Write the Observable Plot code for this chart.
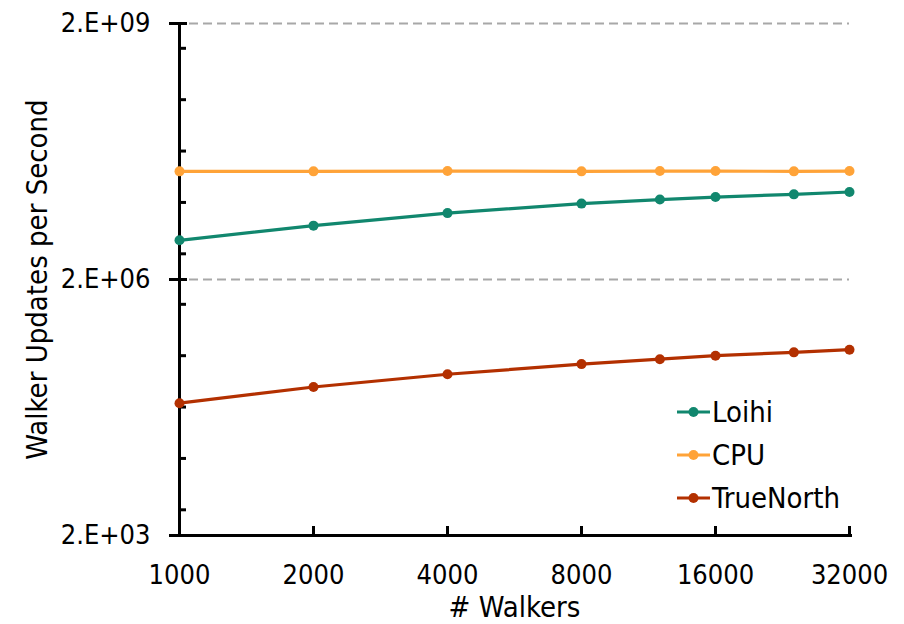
<!DOCTYPE html>
<html><head><meta charset="utf-8">
<script src="https://cdn.jsdelivr.net/npm/d3@7"></script>
<script src="https://cdn.jsdelivr.net/npm/@observablehq/plot@0.6"></script>
<style>
body{margin:0;background:#fff;}
#wrap{position:relative;width:904px;height:624px;font-family:"DejaVu Sans Condensed","DejaVu Sans",sans-serif;font-stretch:condensed;}
#legend{position:absolute;left:677px;top:390px;font-size:29px;color:#000;}
#legend .row{height:43px;display:flex;align-items:center;}
#legend svg{margin-right:2px;}
</style></head><body><div id="wrap"></div>
<script>
const walkers = [1000, 2000, 4000, 8000, 12000, 16000, 24000, 32000];
const loihi = [5.76e6, 8.55e6, 1.20e7, 1.55e7, 1.73e7, 1.85e7, 1.99e7, 2.12e7];
const cpu = [3.70e7, 3.70e7, 3.73e7, 3.70e7, 3.73e7, 3.73e7, 3.70e7, 3.73e7];
const trueNorth = [7.11e4, 1.10e5, 1.55e5, 2.04e5, 2.33e5, 2.56e5, 2.80e5, 3.01e5];
const seriesNames = ["Loihi", "CPU", "TrueNorth"];
const seriesColors = ["#11876e", "#ffa338", "#b33000"];
const xTicks = [1000, 2000, 4000, 8000, 16000, 32000];
const yMajorTicks = [2e3, 2e6, 2e9];
const yTickLabels = ["2.E+03", "2.E+06", "2.E+09"];
const yMinorTicks = [4e3, 1.6e4, 6.4e4, 2.56e5, 1.024e6, 4e6, 1.6e7, 6.4e7, 2.56e8, 1.024e9];
const xLabel = "# Walkers";
const yLabel = "Walker Updates per Second";

const seriesValues = [loihi, cpu, trueNorth];
const data = seriesNames.flatMap((name, i) => walkers.map((w, j) => ({series: name, walkers: w, value: seriesValues[i][j]})));
const labelOf = new Map(yMajorTicks.map((t, i) => [t, yTickLabels[i]]));

const chart = Plot.plot({
  width: 904, height: 624,
  marginLeft: 179, marginRight: 55, marginTop: 23, marginBottom: 89,
  style: {fontFamily: '"DejaVu Sans Condensed","DejaVu Sans",sans-serif', fontSize: "27px", fontStretch: "condensed", color: "#000", background: "#fff"},
  x: {type: "log", base: 2, domain: [1000, 32000]},
  y: {type: "log", domain: [2e3, 2e9]},
  color: {domain: seriesNames, range: seriesColors},
  marks: [
    Plot.ruleY(yMajorTicks.slice(1), {stroke: "#a8a8a8", strokeWidth: 2, strokeDasharray: "9,5", insetLeft: 10}),
    Plot.axisY(yMajorTicks, {tickSize: 10, tickPadding: 19, strokeWidth: 3, tickFormat: d => labelOf.get(d), label: null, fill: "#000"}),
    Plot.axisY(yMajorTicks, {tickSize: -8, strokeWidth: 3, tickFormat: () => "", label: null}),
    Plot.axisY(yMinorTicks, {tickSize: -7, strokeWidth: 3, tickFormat: () => "", label: null}),
    Plot.axisX(xTicks, {tickSize: 0, tickPadding: 29, tickFormat: d => String(d), label: null, fill: "#000"}),
    Plot.axisX(xTicks, {tickSize: -9, strokeWidth: 3, tickFormat: () => "", label: null}),
    Plot.ruleX([1000], {strokeWidth: 3, stroke: "#000"}),
    Plot.ruleY([2e3], {strokeWidth: 3, stroke: "#000", insetRight: -3}),
    Plot.line(data, {x: "walkers", y: "value", stroke: "series", strokeWidth: 3.2}),
    Plot.dot(data, {x: "walkers", y: "value", fill: "series", r: 5}),
    Plot.text([xLabel], {frameAnchor: "bottom", dy: 72, lineAnchor: "middle", textAnchor: "middle", fontSize: 29, fill: "#000"}),
    Plot.text([yLabel], {frameAnchor: "left", dx: -142, rotate: -90, lineAnchor: "middle", textAnchor: "middle", fontSize: 29, fill: "#000"})
  ]
});
const wrap = document.getElementById("wrap");
wrap.appendChild(chart);

const legend = document.createElement("div");
legend.id = "legend";
seriesNames.forEach((name, i) => {
  const row = document.createElement("div");
  row.className = "row";
  row.innerHTML = `<svg width="33" height="12"><line x1="0" y1="6" x2="33" y2="6" stroke="${seriesColors[i]}" stroke-width="3"/><circle cx="16.5" cy="6" r="5" fill="${seriesColors[i]}"/></svg><span>${name}</span>`;
  legend.appendChild(row);
});
wrap.appendChild(legend);
</script>
</body></html>
